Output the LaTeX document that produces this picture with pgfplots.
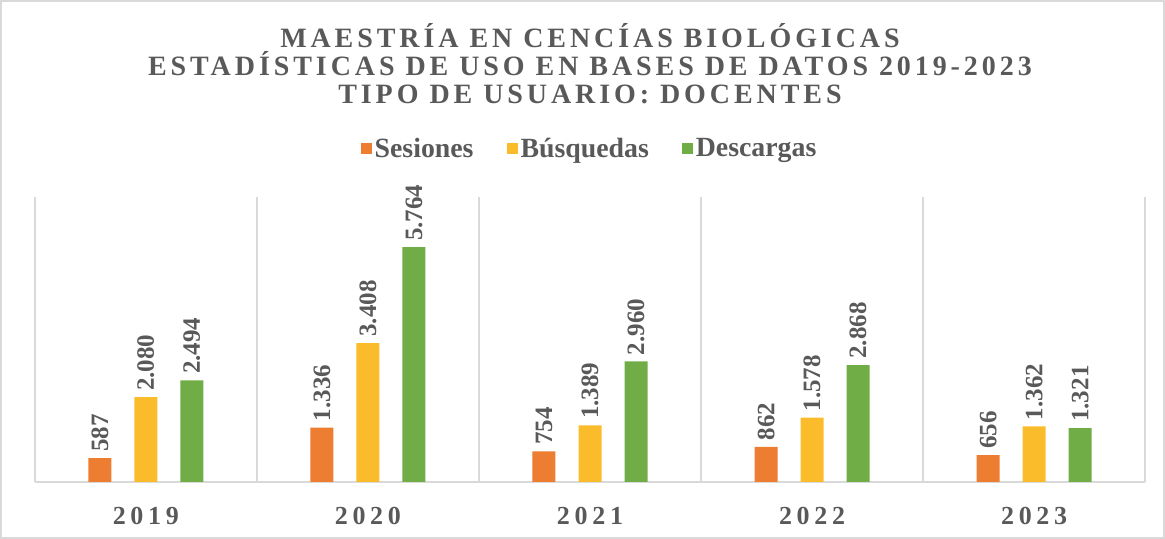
\documentclass[border=0pt]{standalone}
\usepackage{pgfplots}
\pgfplotsset{compat=1.18}
\usepackage{fontspec}
\setmainfont{Liberation Serif}
\newfontfamily\spaced[LetterSpace=14]{Liberation Serif}
\newfontfamily\ticksp[LetterSpace=18]{Liberation Serif}

\definecolor{sesiones}{HTML}{ED7D31}
\definecolor{busquedas}{HTML}{FBBC2C}
\definecolor{descargas}{HTML}{70AD47}
\definecolor{txtgray}{HTML}{595959}
\definecolor{linegray}{HTML}{D9D9D9}

\begin{document}
\begin{tikzpicture}
\draw[linegray, line width=0.8pt] (0.5pt,0.5pt) rectangle (582pt,269pt);
\begin{axis}[
    at={(17.5pt,28.5pt)}, anchor=south west,
    scale only axis,
    width=555pt, height=142.5pt,
    ybar, bar width=11.5pt,
    xmin=-0.5, xmax=4.5, ymin=0, ymax=7000,
    xtick={0,1,2,3,4},
    xticklabels={2019,2020,2021,2022,2023},
    x tick label style={font=\ticksp\bfseries\fontsize{13}{15}\selectfont, text=txtgray, yshift=-9pt},
    minor xtick={-0.5,0.5,1.5,2.5,3.5,4.5},
    xminorgrids,
    minor grid style={linegray, line width=0.8pt},
    major tick length=0pt, minor tick length=0pt,
    axis x line*=bottom, axis y line=none,
    x axis line style={linegray, line width=0.8pt, -},
    /pgf/number format/assume math mode=true,
    /pgf/number format/.cd, 1000 sep={.}, /pgfplots/.cd,
    nodes near coords,
    every node near coord/.append style={rotate=90, anchor=west, text=txtgray,
        font=\bfseries\fontsize{12.5}{14}\selectfont, inner sep=3pt},
    title={\spaced\bfseries MAESTRÍA EN CENCÍAS BIOLÓGICAS\\
           \spaced\bfseries ESTADÍSTICAS DE USO EN BASES DE DATOS 2019-2023\\
           \spaced\bfseries TIPO DE USUARIO: DOCENTES},
    title style={at={(0.5,1.425)}, anchor=center, align=center, text=txtgray,
        font=\fontsize{14}{13.75}\selectfont},
    legend columns=-1,
    legend style={at={(0.5,1.168)}, anchor=center, draw=none, fill=none,
        font=\bfseries\fontsize{13.9}{15}\selectfont, text=txtgray,
        nodes={inner xsep=1.5pt},
        /tikz/every even column/.append style={column sep=15pt}},
    legend image code/.code={\fill[#1] (0pt,-2.75pt) rectangle (5.5pt,2.75pt);},
]
\addplot[draw=none, fill=sesiones, bar shift=-23pt] coordinates {
    (0,587) (1,1336) (2,754) (3,862) (4,656)};
\addplot[draw=none, fill=busquedas, bar shift=0pt] coordinates {
    (0,2080) (1,3408) (2,1389) (3,1578) (4,1362)};
\addplot[draw=none, fill=descargas, bar shift=23pt] coordinates {
    (0,2494) (1,5764) (2,2960) (3,2868) (4,1321)};
\legend{Sesiones, Búsquedas, Descargas}
\end{axis}
\end{tikzpicture}
\end{document}
